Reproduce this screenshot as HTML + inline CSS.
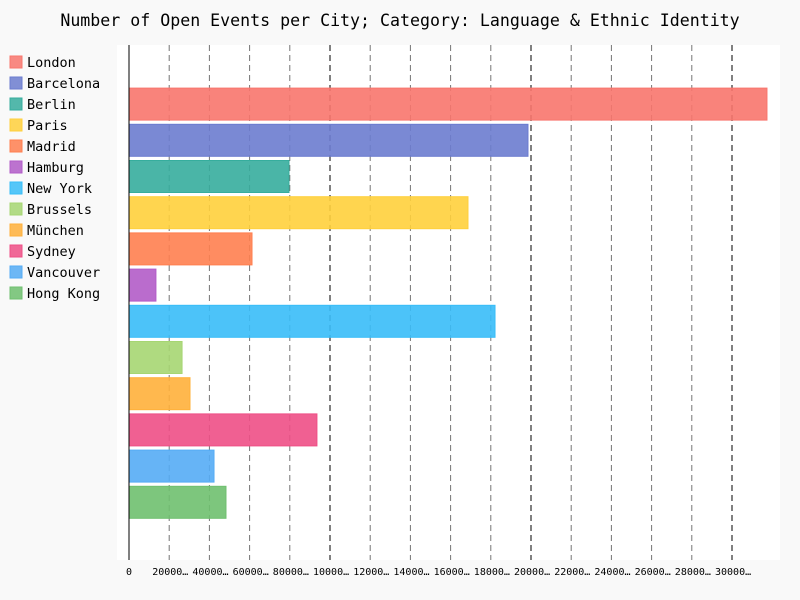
<!DOCTYPE html>
<html><head><meta charset="utf-8"><style>
body{margin:0;background:#f9f9f9;}
svg{display:block;font-family:"DejaVu Sans Mono","Liberation Mono",monospace;}
</style></head><body>
<svg id="chart" width="800" height="600">
<rect x="0" y="0" width="800" height="600" fill="#f9f9f9"/>
<text x="400" y="26" text-anchor="middle" font-size="16.6" fill="#000">Number of Open Events per City; Category: Language &amp; Ethnic Identity</text>
<rect x="117" y="45" width="663" height="515" fill="#fff"/>
<g id="grid"></g><g id="bars"></g><g id="xaxis"></g><g id="legend"></g>
</svg>
<script>
const cities=["London","Barcelona","Berlin","Paris","Madrid","Hamburg","New York","Brussels","München","Sydney","Vancouver","Hong Kong"];
const values=[317400,198500,79600,168650,61200,13400,182100,26400,30350,93500,42300,48250];
const colors=["#f8766d","#6c7ccf","#36ad9d","#ffd03c","#ff7f50","#b25cc8","#38bdf8","#a6d672","#ffb03b","#ee4f86","#55acf5","#6fc06f"];
const ticks=[0,20000,40000,60000,80000,100000,120000,140000,160000,180000,200000,220000,240000,260000,280000,300000];
const tickLabels=["0","20000…","40000…","60000…","80000…","10000…","12000…","14000…","16000…","18000…","20000…","22000…","24000…","26000…","28000…","30000…"];
const NS="http://www.w3.org/2000/svg";
const x0=129,scale=603/300000;
const X=v=>x0+v*scale;
const bandStart=86,band=36.2,barH=32;
const Y=i=>bandStart+i*band+(band-barH)/2;
function mk(t,a,p){const e=document.createElementNS(NS,t);for(const k in a)e.setAttribute(k,a[k]);p.appendChild(e);return e;}
const grid=document.getElementById('grid'),xa=document.getElementById('xaxis'),bars=document.getElementById('bars'),leg=document.getElementById('legend');
ticks.forEach((t,i)=>{
  if(i>0){const major=t%100000===0;
    const l=mk('line',{x1:X(t),x2:X(t),y1:45,y2:560,stroke:major?'#000':'#666','stroke-width':1,'stroke-dasharray':'6,4',opacity:major?1:0.9},grid);
    
    }
  const tk=mk('text',{x:X(t),y:575,'text-anchor':i==0?'middle':'start','font-size':10,fill:'#000'},xa);
  if(i>0)tk.setAttribute('x',X(t)-17);
  tk.textContent=tickLabels[i];
  
  
});
const ax=mk('line',{x1:x0,x2:x0,y1:45,y2:560,stroke:'#000','stroke-width':1},xa);


values.forEach((v,i)=>{
  const r=mk('rect',{x:x0,y:Y(i),width:X(v)-x0,height:barH,fill:colors[i],'fill-opacity':0.9,stroke:colors[i]},bars);
  
  
  const g=mk('g',{},leg);
  
  
  const ly=62+i*21;
  mk('rect',{x:10,y:ly-6,width:12,height:12,fill:colors[i],stroke:colors[i],'fill-opacity':0.85},g);
  const t=mk('text',{x:27,y:ly+5,'font-size':13.5,fill:'#000'},g);t.textContent=cities[i];
});
</script>
</body></html>
